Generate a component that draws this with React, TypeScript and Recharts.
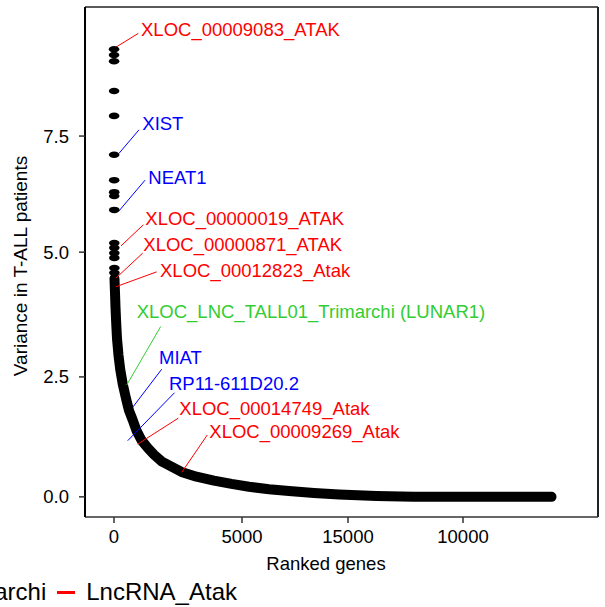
import {
  ComposedChart,
  Line,
  Scatter,
  XAxis,
  YAxis,
  ReferenceLine,
  ReferenceDot,
} from 'recharts';

const FONT = '"Liberation Sans", Arial, sans-serif';

// Top-ranked genes, drawn as individual dots
const topRanks = [1, 2, 3, 4, 5, 6, 7, 8, 9, 10, 11, 12, 13, 14, 15, 16];
const topValues = [9.33, 9.21, 9.08, 8.46, 7.94, 7.13, 6.6, 6.35, 6.27, 5.98, 5.29, 5.19, 5.08, 4.98, 4.77, 4.67];

// The dense rest of the ranked curve
const denseRanks = [
  20, 40, 60, 90, 120, 180, 250, 350, 480, 600, 750, 900, 1100, 1350, 1600, 1900,
  2300, 2700, 3300, 4000, 4700, 5400, 6200, 7000, 8000, 9000, 10500, 12000, 14000, 16000, 17500,
];
const denseValues = [
  4.55, 4.25, 3.95, 3.6, 3.3, 2.95, 2.65, 2.35, 2.05, 1.8, 1.6, 1.38, 1.18, 1.02, 0.88, 0.74,
  0.63, 0.52, 0.42, 0.34, 0.27, 0.21, 0.16, 0.12, 0.08, 0.05, 0.02, 0.0, 0.0, 0.0, 0.0,
];

// Axis ticks (labels as printed on the figure)
const xTickValues = [0, 5120, 9360, 13960];
const xTickLabels = ['0', '5000', '15000', '10000'];
const yTickValues = [0, 2.5, 5.1, 7.52];
const yTickLabels = ['0.0', '2.5', '5.0', '7.5'];

const X_DOMAIN = [-1160, 19360];
const Y_DOMAIN = [-0.42, 10.21];

// Annotated genes
const annoLabels = [
  'XLOC_00009083_ATAK',
  'XIST',
  'NEAT1',
  'XLOC_00000019_ATAK',
  'XLOC_00000871_ATAK',
  'XLOC_00012823_Atak',
  'XLOC_LNC_TALL01_Trimarchi (LUNAR1)',
  'MIAT',
  'RP11-611D20.2',
  'XLOC_00014749_Atak',
  'XLOC_00009269_Atak',
];
const annoColors = ['red', 'blue', 'blue', 'red', 'red', 'red', '#32cd32', 'blue', 'blue', 'red', 'red'];
const annoPointX = [68, 200, 200, 280, 80, 80, 508, 760, 548, 948, 2708];
const annoPointY = [9.37, 7.16, 5.96, 5.23, 4.56, 4.38, 2.33, 1.875, 1.17, 1.1, 0.51];
const annoEndX = [972, 1000, 1240, 1172, 1148, 1708, 1868, 1908, 2420, 2572, 3732];
const annoEndY = [9.66, 7.65, 6.6, 5.67, 5.08, 4.69, 3.55, 2.66, 2.17, 1.64, 1.29];
const annoTextX = [1080, 1132, 1372, 1252, 1172, 1840, 908, 1800, 2200, 2612, 3812];
const annoTextY = [9.75, 7.79, 6.65, 5.81, 5.27, 4.71, 3.86, 2.91, 2.37, 1.85, 1.36];

const legendLabels = ['Known_lncRNA', 'LncRNA_Trimarchi', 'LncRNA_Atak'];
const legendColors = ['blue', '#32cd32', 'red'];

const topData = topRanks.map((r, i) => ({ rank: r, v: topValues[i] }));
const denseData = denseRanks.map((r, i) => ({ rank: r, v: denseValues[i] }));

function Ellipse(props: any) {
  const { cx, cy } = props;
  return <ellipse cx={cx} cy={cy} rx={5.3} ry={3.3} fill="#000" />;
}

function XTitle() {
  return (
    <text x={326} y={563} textAnchor="middle" dominantBaseline="central" fontSize={18.5} fontFamily={FONT} fill="#000">
      Ranked genes
    </text>
  );
}

function YTitle() {
  return (
    <text
      x={20}
      y={266}
      transform="rotate(-90 20 266)"
      textAnchor="middle"
      dominantBaseline="central"
      fontSize={19}
      fontFamily={FONT}
      fill="#000"
    >
      Variance in T-ALL patients
    </text>
  );
}

export default function App() {
  return (
    <div style={{ position: 'absolute', left: 0, top: 0, width: 605, height: 607, overflow: 'hidden', background: '#fff' }}>
      <ComposedChart width={605} height={607} margin={{ top: 7, right: 7, bottom: 50, left: 0 }}>
        <XAxis
          type="number"
          dataKey="rank"
          domain={X_DOMAIN}
          allowDataOverflow
          ticks={xTickValues}
          tickFormatter={(v: number) => xTickLabels[xTickValues.indexOf(v)] ?? ''}
          height={40}
          tickSize={6}
          tickMargin={7}
          axisLine={{ stroke: '#333', strokeWidth: 1.5 }}
          tickLine={{ stroke: '#333', strokeWidth: 1.5 }}
          tick={{ fontSize: 18.5, fontFamily: FONT, fill: '#000' }}
          label={<XTitle />}
        />
        <YAxis
          type="number"
          domain={Y_DOMAIN}
          allowDataOverflow
          ticks={yTickValues}
          tickFormatter={(v: number) => yTickLabels[yTickValues.indexOf(v)] ?? ''}
          width={85}
          tickSize={6}
          tickMargin={10}
          axisLine={{ stroke: '#000', strokeWidth: 2 }}
          tickLine={{ stroke: '#333', strokeWidth: 1.5 }}
          tick={{ fontSize: 18.5, fontFamily: FONT, fill: '#000' }}
          label={<YTitle />}
        />

        {/* panel box: top and right borders */}
        <ReferenceLine y={Y_DOMAIN[1]} stroke="#222" strokeWidth={1.5} />
        <ReferenceLine x={X_DOMAIN[1]} stroke="#222" strokeWidth={2} />

        <Line
          data={denseData}
          dataKey="v"
          type="linear"
          stroke="#000"
          strokeWidth={10}
          strokeLinecap="round"
          strokeLinejoin="round"
          dot={false}
          activeDot={false}
          isAnimationActive={false}
        />
        <Scatter data={topData} dataKey="v" shape={<Ellipse />} isAnimationActive={false} />

        {annoLabels.map((lab, i) => (
          <ReferenceLine
            key={`l${i}`}
            segment={[
              { x: annoPointX[i], y: annoPointY[i] },
              { x: annoEndX[i], y: annoEndY[i] },
            ]}
            stroke={annoColors[i]}
            strokeWidth={1}
          />
        ))}
        {annoLabels.map((lab, i) => (
          <ReferenceDot
            key={`t${i}`}
            x={annoTextX[i]}
            y={annoTextY[i]}
            r={0}
            shape={(p: any) => (
              <text x={p.cx} y={p.cy} dominantBaseline="central" fontSize={18.5} fontFamily={FONT} fill={annoColors[i]}>
                {lab}
              </text>
            )}
          />
        ))}
      </ComposedChart>

      {/* Legend, wider than the page: only its right end is visible */}
      <div
        style={{
          position: 'absolute',
          right: 605 - 237,
          top: 580,
          display: 'flex',
          alignItems: 'center',
          whiteSpace: 'nowrap',
          fontFamily: FONT,
          fontSize: 24,
          lineHeight: '24px',
          color: '#000',
        }}
      >
        {legendLabels.map((lab, i) => (
          <span key={lab} style={{ display: 'flex', alignItems: 'center' }}>
            <span style={{ display: 'inline-block', width: 18, height: 3, background: legendColors[i], marginLeft: 11, marginRight: 11 }} />
            <span>{lab}</span>
          </span>
        ))}
      </div>
    </div>
  );
}
